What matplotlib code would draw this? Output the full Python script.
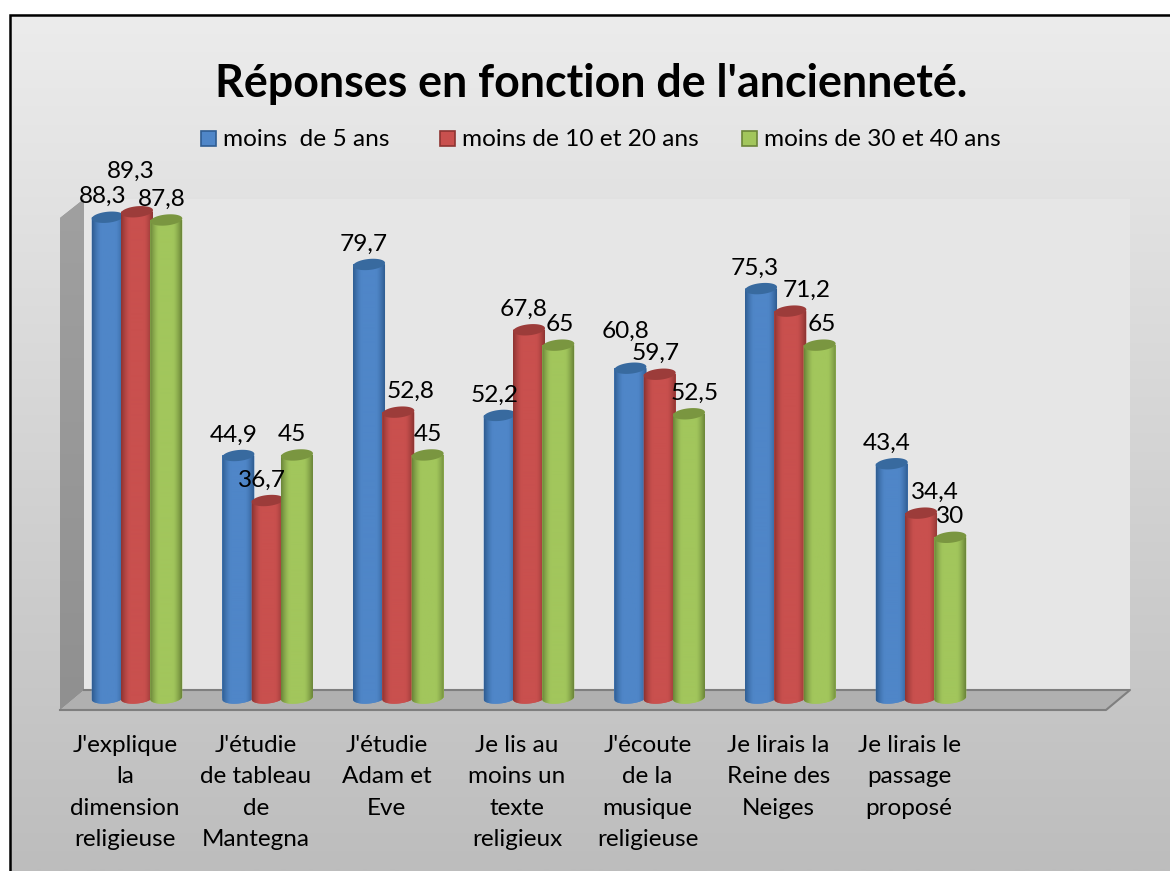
import numpy as np
import matplotlib
matplotlib.use('Agg')
import matplotlib.pyplot as plt
from matplotlib.patches import Polygon, Rectangle

plt.rcParams['font.family'] = ['Lato', 'DejaVu Sans']

W, H = 1170, 871

categories = ["J'explique\nla\ndimension\nreligieuse",
              "J'étudie\nde tableau\nde\nMantegna",
              "J'étudie\nAdam et\nEve",
              "Je lis au\nmoins un\ntexte\nreligieux",
              "J'écoute\nde la\nmusique\nreligieuse",
              "Je lirais la\nReine des\nNeiges",
              "Je lirais le\npassage\nproposé"]
series_names = ['moins  de 5 ans', 'moins de 10 et 20 ans', 'moins de 30 et 40 ans']
moins_5 = [88.3, 44.9, 79.7, 52.2, 60.8, 75.3, 43.4]
moins_10_20 = [89.3, 36.7, 52.8, 67.8, 59.7, 71.2, 34.4]
moins_30_40 = [87.8, 45, 45, 65, 52.5, 65, 30]
values = [moins_5, moins_10_20, moins_30_40]

# base, dark edge, top of the cylinder
colors = [('#4f86c8', '#2f5d92', '#386a9f'),
          ('#c9504e', '#8e3432', '#9c3c3a'),
          ('#a2c65c', '#6b8539', '#7a9640')]

# the axes fill the whole figure, scale chosen so that bars land where they should
PX_GROUP = 130.67
PX_UNIT = 5.49
X0, Y0 = 137.0, 702.0


def px(x):
    return (x - X0) / PX_GROUP


def py(y):
    return (Y0 - y) / PX_UNIT


fig = plt.figure(figsize=(W / 100, H / 100), dpi=100)
ax = fig.add_axes([0, 0, 1, 1])
ax.set_xlim(px(0), px(W))
ax.set_ylim(py(H), py(0))
ax.axis('off')


def vgrad(x0, x1, y0, y1, c_top, c_bot, z, clip=None):
    rgb = np.array([matplotlib.colors.to_rgb(c_top), matplotlib.colors.to_rgb(c_bot)])
    t = np.linspace(0, 1, 256)[:, None]
    img = (rgb[0] * (1 - t) + rgb[1] * t)[:, None, :]
    im = ax.imshow(img, extent=(px(x0), px(x1), py(y1), py(y0)), aspect='auto',
                   zorder=z, interpolation='bilinear')
    if clip is not None:
        im.set_clip_path(clip)
    return im


# chart background and frame
vgrad(10, 1170, 15, 871, '#ececec', '#bdbdbd', 0)
ax.plot([px(10), px(10), px(1170)], [py(871), py(15), py(15)], color='black', lw=1.8, zorder=1,
        solid_joinstyle='miter')

# back wall
ax.add_patch(Rectangle((px(84), py(690)), 1046 / PX_GROUP, 491 / PX_UNIT,
                       facecolor='#e6e6e6', edgecolor='none', zorder=1))

# side wall and floor of the 3D box
side = Polygon([[px(60), py(218)], [px(84), py(199)], [px(84), py(690)], [px(60), py(710)]],
               closed=True, facecolor='#969696', edgecolor='none', zorder=2)
ax.add_patch(side)
vgrad(60, 84, 199, 710, '#a0a0a0', '#909090', 2, clip=side)
floor = Polygon([[px(84), py(690)], [px(1130), py(690)], [px(1106), py(710)], [px(60), py(710)]],
                closed=True, facecolor='#b0b0b0', edgecolor='none', zorder=2)
ax.add_patch(floor)
ax.plot([px(84), px(1130), px(1106), px(60)], [py(690), py(690), py(710), py(710)],
        color='#7f7f7f', lw=1.5, zorder=2)


def ellipse(cx, cy, rx, ry, tilt, a=0.0, b=2 * np.pi):
    # cylinder caps lean up to the right a little
    t = np.linspace(a, b, 60)
    xs = cx + rx * np.cos(t) / PX_GROUP
    ys = cy + (ry * np.sin(t) + tilt * np.cos(t)) / PX_UNIT
    return np.column_stack([xs, ys])


BAR_W = 32 / PX_GROUP
OFFSET = 29.3 / PX_GROUP
RY, TILT = 5.5, 1.5
FOOT = 4 / PX_UNIT
LABEL_DX = [-5, -5, 0]

for s, vals in enumerate(values):
    base, dark, top = colors[s]
    z = 3 + s
    for c, v in enumerate(vals):
        cx = c + (s - 1) * OFFSET
        ax.bar(cx, v - FOOT, bottom=FOOT, width=BAR_W, color=base, zorder=z)
        # body outline: flanks plus the rounded bottom
        low = ellipse(cx, FOOT, BAR_W / 2 * PX_GROUP, RY, TILT, np.pi, 2 * np.pi)
        outline = np.vstack([low, [[cx + BAR_W / 2, v], [cx - BAR_W / 2, v]]])
        body = Polygon(outline, closed=True, facecolor=base, edgecolor='none', zorder=z)
        ax.add_patch(body)
        t = np.abs(np.linspace(-1, 1, 64))
        mix = np.clip((t - 0.45) / 0.55, 0, 1)[None, :, None] ** 1.4
        b_rgb = np.array(matplotlib.colors.to_rgb(base))
        d_rgb = np.array(matplotlib.colors.to_rgb(dark))
        img = b_rgb * (1 - mix) + d_rgb * mix
        im = ax.imshow(img, extent=(cx - BAR_W / 2, cx + BAR_W / 2, FOOT - 2, v), aspect='auto',
                       zorder=z, interpolation='bilinear')
        im.set_clip_path(body)
        ax.add_patch(Polygon(ellipse(cx, v, BAR_W / 2 * PX_GROUP, RY, TILT), closed=True,
                             facecolor=top, edgecolor='none', zorder=z + 0.1))

# value labels, some were moved by hand in the original
label_moves = {(0, 1): (-1, 20), (1, 1): (-1, 0), (2, 1): (17, 0), (4, 1): (1, 0),
               (5, 1): (21, 0), (6, 1): (19, 0), (4, 0): (0, 16), (5, 0): (-1, 0),
               (0, 2): (-5, 0), (1, 2): (-5, 0), (3, 2): (2, 0), (4, 2): (6, 0), (5, 2): (2, 0)}
for s, vals in enumerate(values):
    for c, v in enumerate(vals):
        cx = c + (s - 1) * OFFSET
        mx, my = label_moves.get((c, s), (0, 0))
        ax.text(cx + (LABEL_DX[s] + mx) / PX_GROUP, v + (10 + my) / PX_UNIT,
                f'{v:g}'.replace('.', ','), ha='center', va='bottom', fontsize=17.6,
                color='black', zorder=10)

# category labels
for c, name in enumerate(categories):
    ax.text(c - 12 / PX_GROUP, py(735), name, ha='center', va='top', fontsize=17.5,
            color='black', linespacing=1.61, zorder=10)

# title and legend
ax.text(px(591), py(84), "Réponses en fonction de l'ancienneté.", ha='center', va='center',
        fontsize=32.2, fontweight='bold', color='black', zorder=10)
legend_x = [201, 440, 742]
for s, name in enumerate(series_names):
    base, dark, top = colors[s]
    ax.add_patch(Rectangle((px(legend_x[s]), py(146)), 15 / PX_GROUP, 15 / PX_UNIT,
                           facecolor=base, edgecolor=dark, lw=1.2, zorder=10))
    ax.text(px(legend_x[s] + 22), py(140), name, ha='left', va='center', fontsize=17.6,
            color='black', zorder=10)

ax.set_xlim(px(0), px(W))
ax.set_ylim(py(H), py(0))
fig.savefig('out.png', dpi=100, facecolor='white')
